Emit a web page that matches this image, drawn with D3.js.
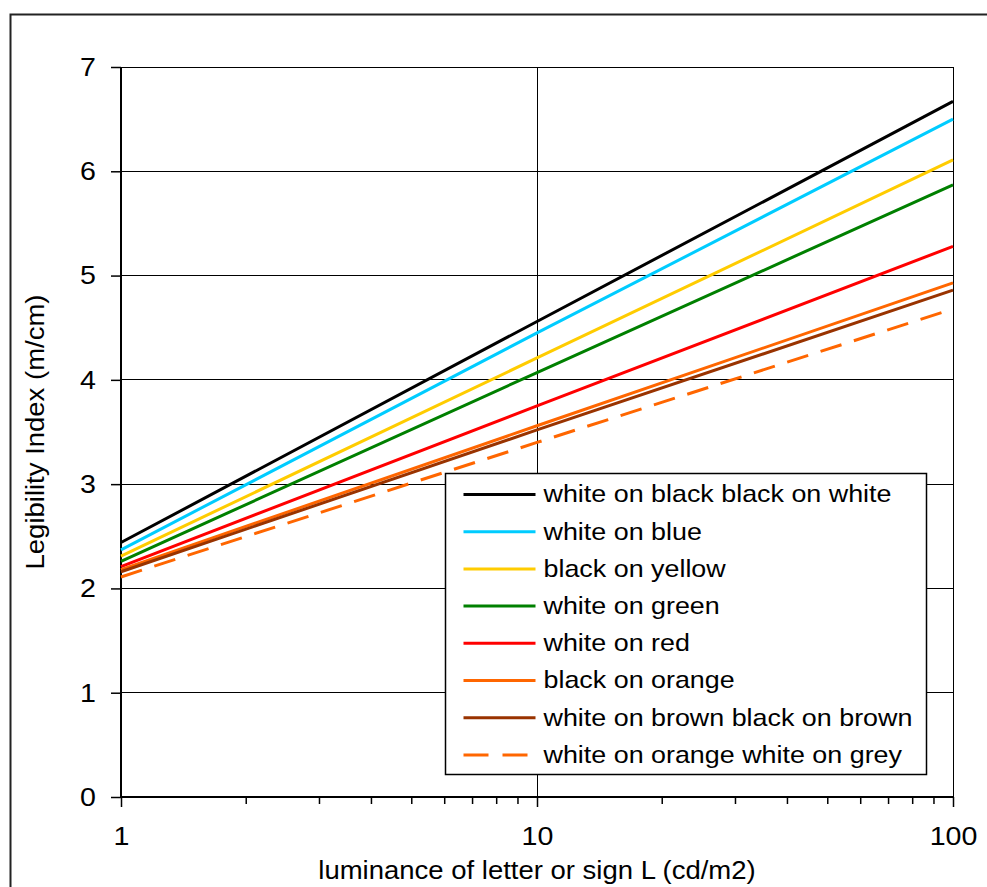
<!DOCTYPE html>
<html>
<head>
<meta charset="utf-8">
<script src="https://cdnjs.cloudflare.com/ajax/libs/d3/7.8.5/d3.min.js"></script>
<style>
  body { margin: 0; background: #fff; }
  text { font-family: "Liberation Sans", Arial, sans-serif; }
  .grid line { shape-rendering: crispEdges; }
</style>
</head>
<body>
<script>
(function() {
  'use strict';

  var width = 987,
      height = 887,
      margin = {left: 121, right: 34, top: 67, bottom: 90};

  // luminance values where the curves were read
  var luminance = [1, 10, 100];

  var seriesNames = [
    "white on black black on white",
    "white on blue",
    "black on yellow",
    "white on green",
    "white on red",
    "black on orange",
    "white on brown black on brown",
    "white on orange white on grey"
  ];

  var seriesColors = ["#000000", "#00ccff", "#ffcc00", "#008000", "#ff0000", "#ff6600", "#993300", "#ff6600"];
  var seriesDashed = [false, false, false, false, false, false, false, true];

  // legibility index at L = 1, 10, 100
  var blackWhite  = [2.44, 4.56, 6.67];
  var blue        = [2.37, 4.45, 6.50];
  var yellow      = [2.31, 4.21, 6.11];
  var green       = [2.26, 4.07, 5.87];
  var red         = [2.21, 3.75, 5.28];
  var orange      = [2.18, 3.56, 4.93];
  var brown       = [2.16, 3.52, 4.86];
  var orangeGrey  = [2.11, 3.40, 4.68];

  var seriesValues = [blackWhite, blue, yellow, green, red, orange, brown, orangeGrey];

  var yTicks = [0, 1, 2, 3, 4, 5, 6, 7];
  var xMajor = [1, 10, 100];
  var xMinor = [2, 3, 4, 5, 6, 7, 8, 9, 20, 30, 40, 50, 60, 70, 80, 90];

  var stretch = 1.1;   // the original text is a bit wider than Arial

  var svg = d3.select("body").append("svg")
              .attr("width", width)
              .attr("height", height);

  // outer frame
  svg.append("rect")
     .attr("x", 10.5).attr("y", 14.5)
     .attr("width", 1000).attr("height", 1000)
     .attr("fill", "none")
     .attr("stroke", "#222")
     .attr("stroke-width", 2);

  var x = d3.scaleLog()
            .domain([1, 100])
            .range([margin.left, width - margin.right]);

  var y = d3.scaleLinear()
            .domain([0, 7])
            .range([height - margin.bottom, margin.top]);

  // gridlines
  svg.append("g").attr("class", "grid").selectAll("line").data(yTicks.slice(1)).enter()
     .append("line")
     .attr("x1", x(1)).attr("x2", x(100))
     .attr("y1", function(d) { return y(d); })
     .attr("y2", function(d) { return y(d); })
     .attr("stroke", "#000")
     .attr("stroke-width", 1);

  svg.append("g").attr("class", "grid").selectAll("line").data(xMajor.slice(1)).enter()
     .append("line")
     .attr("x1", function(d) { return x(d); })
     .attr("x2", function(d) { return x(d); })
     .attr("y1", y(0)).attr("y2", y(7))
     .attr("stroke", "#000")
     .attr("stroke-width", 1);

  // axes
  var yAxis = d3.axisLeft(y)
                .tickValues(yTicks)
                .tickFormat(d3.format("d"))
                .tickSize(10)
                .tickPadding(15);

  var gy = svg.append("g")
     .attr("transform", "translate(" + x(1) + ",0)")
     .call(yAxis);
  gy.select(".domain").attr("stroke-width", 2).attr("d", "M0," + y(0) + "V" + y(7));
  gy.selectAll(".tick line").attr("stroke-width", 1.5);
  gy.selectAll("text")
    .attr("x", 0)
    .attr("transform", "translate(-25,0) scale(" + stretch + ",1)")
    .attr("font-size", 26).attr("fill", "#000");

  var xAxis = d3.axisBottom(x)
                .tickValues(xMajor)
                .tickFormat(d3.format("d"))
                .tickSize(10)
                .tickPadding(20);

  var gx = svg.append("g")
     .attr("transform", "translate(0," + y(0) + ")")
     .call(xAxis);
  gx.select(".domain").attr("stroke-width", 2).attr("d", "M" + x(1) + ",0H" + x(100));
  gx.selectAll(".tick line").attr("stroke-width", 1.5);
  gx.selectAll("text")
    .attr("transform", "scale(" + stretch + ",1)")
    .attr("font-size", 26).attr("fill", "#000");

  gx.selectAll(".minor").data(xMinor).enter()
     .append("line")
     .attr("class", "minor")
     .attr("x1", function(d) { return x(d); })
     .attr("x2", function(d) { return x(d); })
     .attr("y1", 0).attr("y2", 7)
     .attr("stroke", "#000")
     .attr("stroke-width", 1.5);

  // axis titles
  svg.append("text")
     .attr("transform", "translate(44," + ((y(0) + y(7)) / 2) + ") rotate(-90) scale(" + stretch + ",1)")
     .attr("text-anchor", "middle")
     .attr("font-size", 25)
     .text("Legibility Index (m/cm)");

  svg.append("text")
     .attr("transform", "translate(" + ((x(1) + x(100)) / 2) + ",879) scale(" + stretch + ",1)")
     .attr("text-anchor", "middle")
     .attr("font-size", 25)
     .text("luminance of letter or sign L (cd/m2)");

  // series
  var line = d3.line()
               .x(function(d, i) { return x(luminance[i]); })
               .y(function(d) { return y(d); });

  svg.append("g").selectAll("path").data(seriesValues).enter()
     .append("path")
     .attr("d", line)
     .attr("fill", "none")
     .attr("stroke", function(d, i) { return seriesColors[i]; })
     .attr("stroke-width", 3)
     .attr("stroke-dasharray", function(d, i) { return seriesDashed[i] ? "22,13" : null; });

  // legend
  var legend = svg.append("g").attr("transform", "translate(445.5,473.5)");

  legend.append("rect")
     .attr("width", 481).attr("height", 301)
     .attr("fill", "#fff")
     .attr("stroke", "#000")
     .attr("stroke-width", 1.5);

  var rows = legend.selectAll(".row").data(seriesNames).enter()
     .append("g")
     .attr("class", "row")
     .attr("transform", function(d, i) { return "translate(0," + (21 + i * 37.2) + ")"; });

  rows.append("line")
     .attr("x1", 18).attr("x2", 90)
     .attr("stroke", function(d, i) { return seriesColors[i]; })
     .attr("stroke-width", 3)
     .attr("stroke-dasharray", function(d, i) { return seriesDashed[i] ? "25,14" : null; });

  rows.append("text")
     .attr("transform", "translate(98,0) scale(1.12,1)")
     .attr("dy", "0.33em")
     .attr("font-size", 24)
     .text(function(d) { return d; });

})();
</script>
</body>
</html>
